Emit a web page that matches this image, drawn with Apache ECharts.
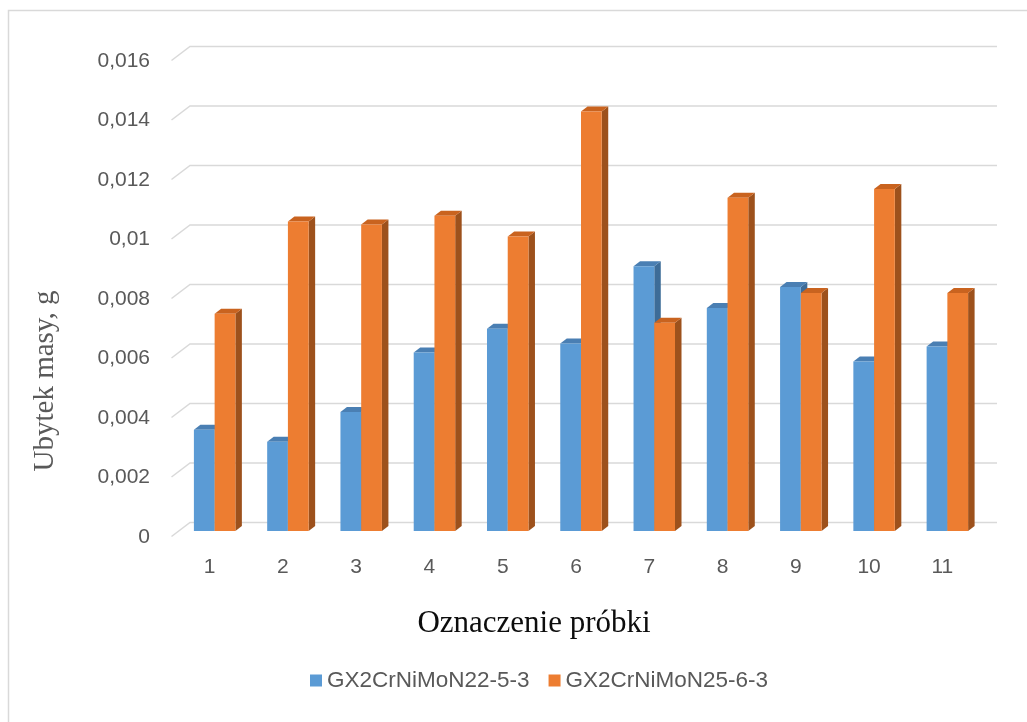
<!DOCTYPE html>
<html>
<head>
<meta charset="utf-8">
<title>Ubytek masy</title>
<script src="https://cdn.jsdelivr.net/npm/echarts@6/dist/echarts.min.js"></script>
<style>
  html, body { margin: 0; padding: 0; background: #ffffff; }
  #chart { width: 1027px; height: 722px; }
</style>
</head>
<body>
<div id="chart"></div>
<script>
// Sample designations on the category axis
const categories = ['1', '2', '3', '4', '5', '6', '7', '8', '9', '10', '11'];

// Mass loss in grams for each steel grade
const seriesNames = ['GX2CrNiMoN22-5-3', 'GX2CrNiMoN25-6-3'];
const duplexValues = [0.0034, 0.0030, 0.0040, 0.0060, 0.0068, 0.0063, 0.0089, 0.0075, 0.0082, 0.0057, 0.0062];
const superDuplexValues = [0.0073, 0.0104, 0.0103, 0.0106, 0.0099, 0.0141, 0.0070, 0.0112, 0.0080, 0.0115, 0.0080];

// Value axis ticks and their labels (decimal comma)
const yTicks = [0, 0.002, 0.004, 0.006, 0.008, 0.010, 0.012, 0.014, 0.016];
const yTickLabels = ['0', '0,002', '0,004', '0,006', '0,008', '0,01', '0,012', '0,014', '0,016'];

const yTitle = 'Ubytek masy, g';
const xTitle = 'Oznaczenie próbki';

// Pseudo-3D column geometry
const DEPTH_X = 6.5;
const DEPTH_Y = -5;
const BAR_FRACTION = 0.283;

const palette = {
  blue:   { front: '#5b9bd5', top: '#4a7fb3', side: '#3d6c98' },
  orange: { front: '#ed7d31', top: '#c9631f', side: '#9d511c' }
};

function columnRenderer(side, colors) {
  return function (params, api) {
    const cat = api.value(0);
    const val = api.value(1);
    const topPt = api.coord([cat, val]);
    const basePt = api.coord([cat, 0]);
    const band = api.size([1, 0])[0];
    const w = band * BAR_FRACTION;
    const x0 = side === 'left' ? topPt[0] - w : topPt[0];
    const x1 = x0 + w;
    const yT = topPt[1];
    const yB = basePt[1];
    return {
      type: 'group',
      children: [
        { type: 'polygon',
          shape: { points: [[x1, yB], [x1 + DEPTH_X, yB + DEPTH_Y], [x1 + DEPTH_X, yT + DEPTH_Y], [x1, yT]] },
          style: { fill: colors.side } },
        { type: 'polygon',
          shape: { points: [[x0, yT], [x1, yT], [x1 + DEPTH_X, yT + DEPTH_Y], [x0 + DEPTH_X, yT + DEPTH_Y]] },
          style: { fill: colors.top } },
        { type: 'rect',
          shape: { x: x0, y: yT, width: w, height: yB - yT },
          style: { fill: colors.front } }
      ]
    };
  };
}

// Back-wall gridlines with the slanted floor edge on the left
function gridlineRenderer(params, api) {
  const y = api.coord([0, api.value(1)])[1];
  const cs = params.coordSys;
  const left = cs.x;
  const right = cs.x + cs.width;
  return {
    type: 'polyline',
    shape: { points: [[left - 6.5, y + 5.5], [left + 12, y - 8.5], [right + 13, y - 8.5]] },
    style: { stroke: '#d9d9d9', lineWidth: 1.5, fill: null },
    silent: true
  };
}

const chart = echarts.init(document.getElementById('chart'), null, { renderer: 'canvas' });

const labelFont = '"Liberation Sans", Arial, sans-serif';
const serifFont = '"Liberation Serif", "Times New Roman", serif';

chart.setOption({
  animation: false,
  backgroundColor: '#ffffff',
  grid: { left: 178, right: 43, top: 55, bottom: 191 },
  xAxis: {
    type: 'category',
    data: categories,
    axisLine: { show: false },
    axisTick: { show: false },
    splitLine: { show: false },
    axisLabel: {
      color: '#595959',
      fontFamily: labelFont,
      fontSize: 21,
      margin: 26,
      padding: [0, 10, 0, 0]
    }
  },
  yAxis: {
    type: 'value',
    min: 0,
    max: 0.016,
    interval: 0.002,
    axisLine: { show: false },
    axisTick: { show: false },
    splitLine: { show: false },
    axisLabel: {
      color: '#595959',
      fontFamily: labelFont,
      fontSize: 21,
      margin: 28,
      verticalAlign: 'top',
      lineHeight: 12,
      formatter: function (v) {
        const i = yTicks.findIndex(function (t) { return Math.abs(t - v) < 1e-9; });
        return i >= 0 ? yTickLabels[i] : '';
      }
    }
  },
  legend: {
    data: seriesNames,
    left: 305,
    top: 664,
    icon: 'rect',
    itemWidth: 12,
    itemHeight: 12,
    itemGap: 19,
    textStyle: { color: '#595959', fontFamily: labelFont, fontSize: 22.5 }
  },
  graphic: [
    { type: 'rect', shape: { x: 8.5, y: 10.5, width: 1040, height: 740 },
      style: { fill: null, stroke: '#d9d9d9', lineWidth: 1.5 }, silent: true, z: -10 },
    { type: 'text', x: 45, y: 381, rotation: Math.PI / 2,
      style: { text: yTitle, fill: '#595959', font: '29px ' + serifFont, align: 'center', verticalAlign: 'middle' } },
    { type: 'text', x: 534, y: 624,
      style: { text: xTitle, fill: '#0d0d0d', font: '31px ' + serifFont, align: 'center', verticalAlign: 'middle' } }
  ],
  series: [
    {
      name: 'gridlines',
      type: 'custom',
      renderItem: gridlineRenderer,
      data: yTicks.map(function (v) { return [0, v]; }),
      silent: true,
      clip: false,
      z: 1
    },
    {
      name: seriesNames[0],
      type: 'custom',
      renderItem: columnRenderer('left', palette.blue),
      itemStyle: { color: palette.blue.front },
      data: duplexValues.map(function (v, i) { return [i, v]; }),
      clip: false,
      z: 2
    },
    {
      name: seriesNames[1],
      type: 'custom',
      renderItem: columnRenderer('right', palette.orange),
      itemStyle: { color: palette.orange.front },
      data: superDuplexValues.map(function (v, i) { return [i, v]; }),
      clip: false,
      z: 3
    }
  ]
});
</script>
</body>
</html>
